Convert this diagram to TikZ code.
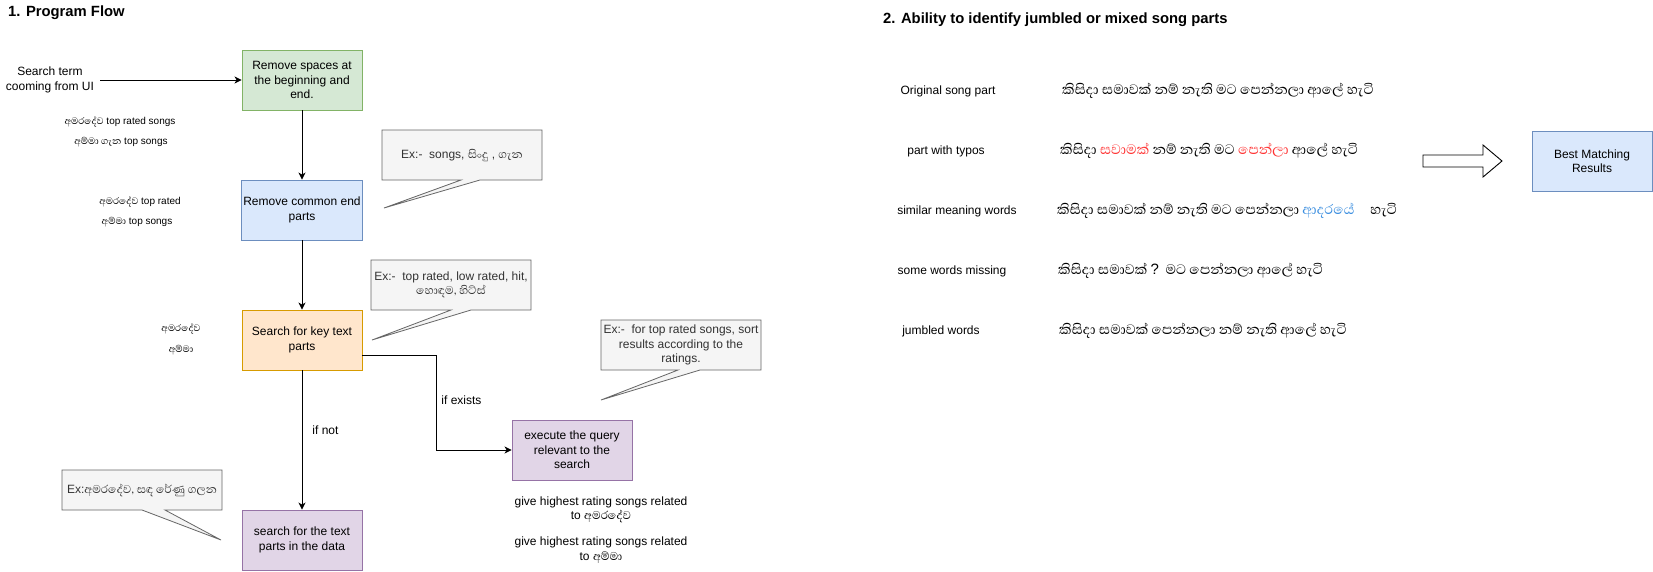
\documentclass[tikz,border=0pt]{standalone}
\usepackage{fontspec}
\usepackage{xcolor}
\setmainfont{Liberation Sans}
\newfontfamily\sinhalafont[Script=Sinhala,Scale=1.2]{Abhaya Libre}
\usetikzlibrary{arrows.meta}
\definecolor{flowGreen}{HTML}{D5E8D4}
\definecolor{flowGreenLine}{HTML}{82B366}
\definecolor{flowBlue}{HTML}{DAE8FC}
\definecolor{flowBlueLine}{HTML}{6C8EBF}
\definecolor{flowOrange}{HTML}{FFE6CC}
\definecolor{flowOrangeLine}{HTML}{D79B00}
\definecolor{flowPurple}{HTML}{E1D5E7}
\definecolor{flowPurpleLine}{HTML}{9673A6}
\definecolor{noteFill}{HTML}{F5F5F5}
\definecolor{noteLine}{HTML}{666666}
\definecolor{noteText}{HTML}{333333}
\definecolor{typoRed}{HTML}{FF3333}
\definecolor{meaningBlue}{HTML}{3A8EE0}
\newcommand{\Si}[1]{{\sinhalafont #1}}
\newcommand{\SongLine}{\fontsize{14.6}{17}\sinhalafont}

\begin{document}
\begin{tikzpicture}[x=1pt,y=-1pt,line cap=butt,line join=miter,
  every node/.style={font=\fontsize{12}{14.4}\selectfont},
  stepbox/.style={draw,line width=0.9pt,minimum width=120pt,minimum height=60pt,align=center,inner sep=2pt},
  greenbox/.style={stepbox,fill=flowGreen,draw=flowGreenLine},
  bluebox/.style={stepbox,fill=flowBlue,draw=flowBlueLine},
  orangebox/.style={stepbox,fill=flowOrange,draw=flowOrangeLine},
  purplebox/.style={stepbox,fill=flowPurple,draw=flowPurpleLine},
  callout/.style={fill=noteFill,draw=noteLine,line width=0.8pt},
  calltext/.style={text=noteText,align=center,inner sep=1pt},
  smalltag/.style={font=\fontsize{10}{12}\selectfont,inner sep=1pt},
  flow/.style={line width=0.9pt,-{Stealth[length=7pt,width=7pt,inset=2pt]}},
  edgelabel/.style={inner sep=1pt},
  rowlabel/.style={inner sep=1pt},
  rowtext/.style={font=\SongLine,anchor=west,inner sep=0pt},
  title/.style={font=\fontsize{14.8}{18}\selectfont\bfseries,anchor=west,inner sep=0pt}]
\useasboundingbox[fill=white] (0,0) rectangle (1653,571);

% 1. program flow
\node[title] (flowTitle) at (8,13) {1. Program Flow};
\node[align=center,minimum width=100pt,inner sep=0pt] (term) at (50,80) {Search term\\cooming from UI};
\node[greenbox] (trim) at (302,80) {Remove spaces at\\the beginning and\\end.};
\node[bluebox] (common) at (302,210) {Remove common end\\parts};
\node[orangebox] (keytext) at (302,340) {Search for key text\\parts};
\node[purplebox] (searchdata) at (302,540) {search for the text\\parts in the data};
\node[purplebox] (query) at (572,450) {execute the query\\relevant to the\\search};

\draw[flow] (term.east) -- (trim.west);
\draw[flow] (trim) -- (common);
\draw[flow] (common) -- (keytext);
\draw[flow] (keytext) -- node[edgelabel,pos=0.43,right=9pt] {if not} (searchdata);
\coordinate (bend) at (436,355);
\draw[flow] ([yshift=-15pt]keytext.east) -- (bend) |- node[edgelabel,pos=0.24,right=4pt] {if exists} (query.west);

% sample search terms
\node[smalltag] (tagA) at (120,122) {\Si{අමරදේව} top rated songs};
\node[smalltag] (tagB) at (121,142) {\Si{අම්මා ගැන} top songs};
\node[smalltag] (tagC) at (140,202) {\Si{අමරදේව} top rated};
\node[smalltag] (tagD) at (137,222) {\Si{අම්මා} top songs};
\node[smalltag] (tagE) at (181,329) {\Si{අමරදේව}};
\node[smalltag] (tagF) at (181,350) {\Si{අම්මා}};

% notes
\draw[callout] (382,130) -- (542,130) -- (542,180) -- (480,180) -- (384,208) -- (461,180) -- (382,180) -- cycle;
\node[calltext] (noteEnd) at (462,155) {Ex:-\ \ songs, \Si{සිංදු} , \Si{ගැන}};
\draw[callout] (371,260) -- (531,260) -- (531,310) -- (471,310) -- (372,340) -- (451,310) -- (371,310) -- cycle;
\node[calltext] (noteKey) at (451,285) {Ex:-\ \ top rated, low rated, hit,\\\Si{හොඳම, හිට්ස්}};
\draw[callout] (601,320) -- (761,320) -- (761,370) -- (700,370) -- (601,400) -- (678,370) -- (601,370) -- cycle;
\node[calltext] (noteSort) at (681,345) {Ex:-\ \ for top rated songs, sort\\results according to the\\ratings.};
\draw[callout] (62,470) -- (222,470) -- (222,510) -- (165,510) -- (221,540) -- (142,510) -- (62,510) -- cycle;
\node[calltext] (noteData) at (142,490) {Ex:\Si{අමරදේව, සඳ රේණු ගලන}};

\node[align=center,inner sep=0pt] (resultA) at (601,510) {give highest rating songs related\\to \Si{අමරදේව}};
\node[align=center,inner sep=0pt] (resultB) at (601,550) {give highest rating songs related\\to \Si{අම්මා}};

% 2. jumbled parts
\node[title] (partsTitle) at (883,20) {2. Ability to identify jumbled or mixed song parts};
\node[rowlabel] (rowOrig) at (948,91) {Original song part};
\node[rowlabel] (rowTypo) at (946,151) {part with typos};
\node[rowlabel] (rowMean) at (957,211) {similar meaning words};
\node[rowlabel] (rowMiss) at (952,271) {some words missing};
\node[rowlabel] (rowJumb) at (941,331) {jumbled words};
\node[rowtext] (songOrig) at (1062,91) {කිසිදා සමාවක් නම් නැති මට පෙන්නලා ආලේ හැටි};
\node[rowtext] (songTypo) at (1060,151) {කිසිදා \textcolor{typoRed}{සවාමක්} නම් නැති මට \textcolor{typoRed}{පෙන්ලා} ආලේ හැටි};
\node[rowtext] (songMean) at (1057,211) {කිසිදා සමාවක් නම් නැති මට පෙන්නලා \textcolor{meaningBlue}{ආදරයේ}\hspace{16pt}හැටි};
\node[rowtext] (songMiss) at (1058,271) {කිසිදා සමාවක් {\fontsize{15}{17}\rmfamily ?}\ \ මට පෙන්නලා ආලේ හැටි};
\node[rowtext] (songJumb) at (1059,331) {කිසිදා සමාවක් පෙන්නලා නම් නැති ආලේ හැටි};

\draw[line width=0.9pt,fill=white] (1423,155) -- (1483,155) -- (1483,145) -- (1502,161)
  -- (1483,177) -- (1483,167) -- (1423,167) -- cycle;
\node[bluebox] (best) at (1592,161) {Best Matching\\Results};
\end{tikzpicture}
\end{document}
